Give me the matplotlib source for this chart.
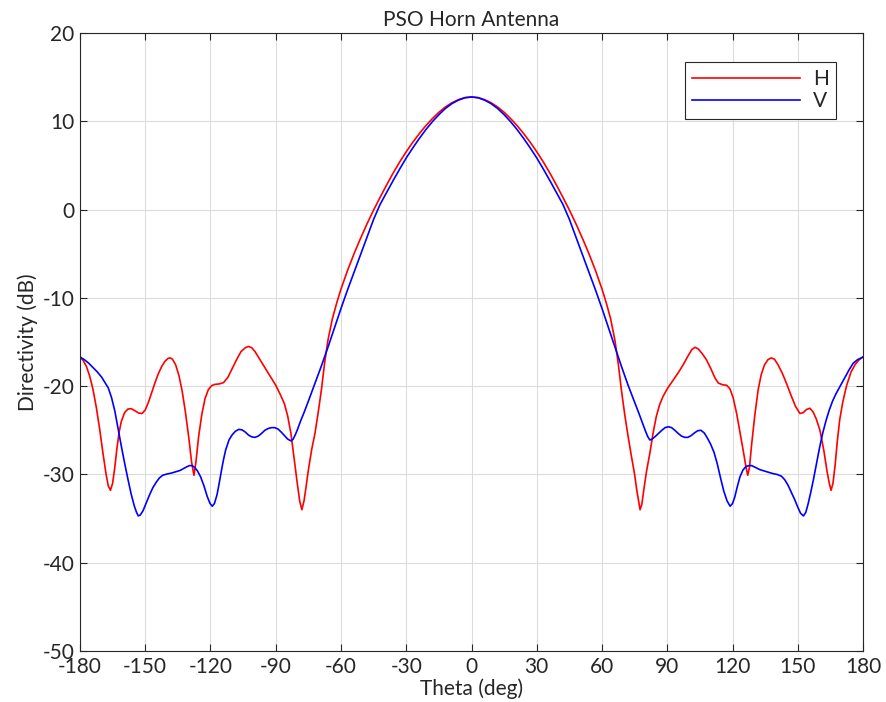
import matplotlib

matplotlib.use("Agg")
import matplotlib.pyplot as plt  # noqa: E402

# H-plane directivity (dB) vs theta (deg)
theta_h = [-180, -178.5, -177, -175.5, -174, -172.5, -171, -169.5, -168, -167,
           -166, -165, -164, -163, -162, -161, -159.5, -158, -156.5, -155,
           -153, -151.5, -150, -148.5, -147, -145.5, -144, -142.5, -141,
           -139.5, -138.5, -137.5, -136, -134.5, -133, -131.5, -130, -128.7,
           -127.6, -126.7, -125.5, -124, -122.5, -121, -119.5, -118, -116,
           -114, -112, -110, -108, -106, -104, -102.5, -101, -99.5, -97.5,
           -95, -92.5, -90, -88, -86, -84.5, -83, -81.5, -80, -79, -78, -77,
           -76, -75, -73.5, -72, -70.5, -69, -67.5, -66, -64, -62, -60, -57,
           -54, -51, -48, -45, -42, -39, -36, -33, -30, -27, -24, -21, -18,
           -15, -12, -9, -6, -3, 0,
           3, 6, 9, 12, 15, 18, 21, 24, 27, 30, 33, 36, 39, 42, 45, 48, 51,
           54, 57, 60, 62, 64, 66, 67.5, 69, 70.5, 72, 73.5, 75, 76, 77, 77.5,
           78.3, 79.3, 80.5, 82, 83.5, 85, 86.5, 88, 90, 92.5, 95, 97.5, 99.5,
           101.3, 102.8, 104.3, 106, 108, 110, 112, 113.5, 115.5, 117.3, 118.8,
           120.3, 121.9, 123.5, 125, 126.3, 127, 127.8, 128.8, 130.3, 131.8,
           133.2, 134.7, 136.3, 137.8, 139.3, 141, 143, 145, 147, 149, 151,
           152.5, 154, 155.6, 157, 158.5, 160.2, 162, 163.5, 164.5, 165.3,
           166.2, 167.2, 168.2, 169.3, 170.7, 172.5, 174.5, 176.5, 178.3, 180]
dir_h = [-16.7, -17.1, -17.8, -18.9, -20.4, -22.4, -24.8, -27.5, -30.0, -31.3,
         -31.8, -31.0, -29.2, -27.0, -25.2, -24.0, -23.0, -22.6, -22.55,
         -22.75, -23.05, -23.1, -22.7, -21.8, -20.7, -19.6, -18.6, -17.8,
         -17.2, -16.85, -16.8, -16.95, -17.6, -18.8, -20.6, -23.0, -25.8,
         -28.6, -30.1, -28.6, -25.8, -23.2, -21.4, -20.4, -19.95, -19.8,
         -19.75, -19.6, -19.0, -18.0, -17.0, -16.1, -15.65, -15.5, -15.65,
         -16.1, -16.9, -17.9, -18.9, -19.9, -20.9, -22.0, -23.4, -25.4, -28.3,
         -31.2, -33.0, -34.0, -33.0, -31.3, -29.5, -27.2, -25.4, -23.0, -20.4,
         -17.3, -14.8, -12.4, -10.6, -9.0, -6.9, -5.0, -3.25, -1.6, -0.05,
         1.4, 2.8, 4.15, 5.4, 6.55, 7.62, 8.6, 9.5, 10.3, 11.02, 11.62, 12.1,
         12.45, 12.68, 12.75,
         12.68, 12.45, 12.1, 11.62, 11.02, 10.3, 9.5, 8.6, 7.62, 6.55, 5.4,
         4.15, 2.8, 1.4, -0.05, -1.6, -3.25, -5.0, -6.9, -9.0, -10.6, -12.4,
         -14.9, -17.5, -20.6, -23.3, -25.7, -27.9, -30.0, -31.8, -33.3, -34.0,
         -33.4, -31.6, -29.6, -27.6, -25.3, -23.4, -22.1, -21.2, -20.3, -19.4,
         -18.5, -17.5, -16.6, -15.85, -15.6, -15.8, -16.3, -17.0, -18.0,
         -19.1, -19.65, -19.85, -19.9, -20.3, -21.3, -23.1, -25.3, -27.4,
         -29.3, -30.1, -29.2, -26.6, -23.2, -20.4, -18.7, -17.6, -17.0, -16.8,
         -16.95, -17.6, -18.6, -19.8, -21.1, -22.3, -23.1, -23.0, -22.65,
         -22.5, -22.9, -23.7, -25.0, -27.3, -29.7, -31.0, -31.8, -31.0, -28.9,
         -26.2, -23.8, -21.8, -19.9, -18.4, -17.5, -17.0, -16.7]

# V-plane directivity (dB) vs theta (deg)
theta_v = [-180, -178, -176, -174, -172, -170, -168.5, -167, -165.5, -164,
           -162.5, -161, -159.5, -158, -156.5, -155, -154, -153.2, -152.3,
           -151, -149.5, -148, -146.5, -145, -143.5, -142, -140, -138, -136,
           -134, -132.5, -131, -129.7, -128.5, -127.3, -126, -124.5, -123,
           -121.5, -120.2, -119.2, -118.2, -117, -116, -115, -114, -113,
           -111.5, -110, -108.5, -107, -105.5, -104, -102.5, -101, -99.5, -98,
           -96.5, -95, -93.5, -92, -90.5, -89, -87.5, -86, -84.5, -83, -82,
           -81, -80, -78.5, -77, -75, -72, -69, -66, -63, -60, -57, -54, -51,
           -48, -45, -42, -39, -36, -33, -30, -27, -24, -21, -18, -15, -12,
           -9, -6, -3, 0,
           3, 6, 9, 12, 15, 18, 21, 24, 27, 30, 33, 36, 39, 42, 45, 48, 51,
           54, 57, 60, 63, 66, 69, 72, 75, 77, 78.5, 80, 81, 82, 83, 84.5, 86,
           87.5, 89, 90.5, 92, 93.5, 95, 96.5, 98, 99.5, 101, 102.5, 104,
           105.5, 107, 108.5, 110, 111.5, 113, 114.5, 116, 117.5, 118.9, 120,
           121, 122.2, 123.4, 124.8, 126.2, 127.5, 128.8, 130.5, 132.5, 134.5,
           136.5, 138.5, 140.5, 142.5, 144, 145.5, 147, 148.5, 150, 151.3,
           152.6, 153.7, 154.8, 156, 157.2, 158.5, 160, 161.5, 163, 164.5, 166,
           167.5, 169.4, 171.5, 173.5, 175.5, 177.5, 180]
dir_v = [-16.7, -17.0, -17.4, -17.9, -18.4, -19.0, -19.6, -20.2, -21.3, -22.8,
         -24.8, -26.8, -28.7, -30.5, -32.2, -33.6, -34.3, -34.7, -34.6, -34.1,
         -33.2, -32.3, -31.5, -30.9, -30.4, -30.1, -29.95, -29.85, -29.7,
         -29.55, -29.35, -29.15, -29.0, -29.0, -29.2, -29.6, -30.3, -31.3,
         -32.5, -33.3, -33.6, -33.3, -32.3, -31.0, -29.6, -28.3, -27.2, -26.1,
         -25.5, -25.1, -24.9, -24.95, -25.2, -25.55, -25.75, -25.8, -25.65,
         -25.35, -25.0, -24.8, -24.7, -24.7, -24.85, -25.2, -25.6, -26.0,
         -26.2, -26.0, -25.5, -24.9, -23.9, -23.0, -21.7, -19.7, -17.7, -15.6,
         -13.4, -11.2, -9.1, -7.1, -5.1, -3.1, -1.1, 0.6, 1.95, 3.3, 4.6,
         5.85, 6.98, 8.05, 9.05, 9.95, 10.75, 11.45, 12.0, 12.4, 12.67, 12.75,
         12.67, 12.4, 12.0, 11.45, 10.75, 9.95, 9.05, 8.05, 6.98, 5.85, 4.6,
         3.3, 1.95, 0.6, -1.1, -3.1, -5.1, -7.1, -9.1, -11.2, -13.4, -15.6,
         -17.8, -19.9, -21.8, -23.1, -24.1, -25.1, -25.7, -26.1, -26.0, -25.7,
         -25.35, -25.0, -24.7, -24.6, -24.7, -25.0, -25.35, -25.65, -25.8,
         -25.8, -25.6, -25.3, -25.05, -25.0, -25.3, -25.9, -26.6, -27.5, -28.8,
         -30.4, -31.9, -33.0, -33.6, -33.3, -32.6, -31.4, -30.3, -29.5, -29.1,
         -29.0, -29.0, -29.2, -29.45, -29.6, -29.75, -29.9, -30.0, -30.2,
         -30.6, -31.2, -32.0, -32.8, -33.7, -34.4, -34.7, -34.3, -33.3, -32.0,
         -30.6, -28.9, -27.0, -25.3, -23.9, -22.7, -21.7, -20.9, -20.05,
         -19.1, -18.2, -17.4, -17.0, -16.7]

x_ticks = list(range(-180, 181, 30))
y_ticks = list(range(-50, 21, 10))

plt.rcParams.update({
    "font.family": ["Lato", "DejaVu Sans"],
    "font.size": 15,
    "axes.unicode_minus": False,
    "text.color": "#262626",
    "axes.labelcolor": "#262626",
    "xtick.color": "#262626",
    "ytick.color": "#262626",
    "xtick.direction": "in",
    "ytick.direction": "in",
    "xtick.top": True,
    "ytick.right": True,
})

fig = plt.figure(figsize=(8.86, 7.02), dpi=100)
ax = fig.add_axes([80 / 886, 51 / 702, 783 / 886, 618 / 702])

ax.plot(theta_h, dir_h, color="#ff0000", lw=1.2, label="H")
ax.plot(theta_v, dir_v, color="#0000ff", lw=1.2, label="V")

ax.set_xlim(-180, 180)
ax.set_ylim(-50, 20)
ax.set_xticks(x_ticks)
ax.set_yticks(y_ticks)
ax.tick_params(length=5, width=0.8, pad=4)
ax.grid(True, color="#dcdcdc", linewidth=0.8)
for sp in ax.spines.values():
    sp.set_color("#262626")
    sp.set_linewidth(0.8)

ax.set_title("PSO Horn Antenna", fontsize=15, pad=5)
ax.set_xlabel("Theta (deg)", labelpad=1)
ax.set_ylabel("Directivity (dB)", labelpad=3)

leg = ax.legend(loc="upper right", bbox_to_anchor=(0.9655, 0.953),
                borderaxespad=0, fancybox=False, framealpha=1,
                edgecolor="#262626", handlelength=5.2, handletextpad=0.6,
                borderpad=0.35, labelspacing=0.1, fontsize=15)
leg.get_frame().set_linewidth(0.8)

fig.savefig("out.png", dpi=100)
